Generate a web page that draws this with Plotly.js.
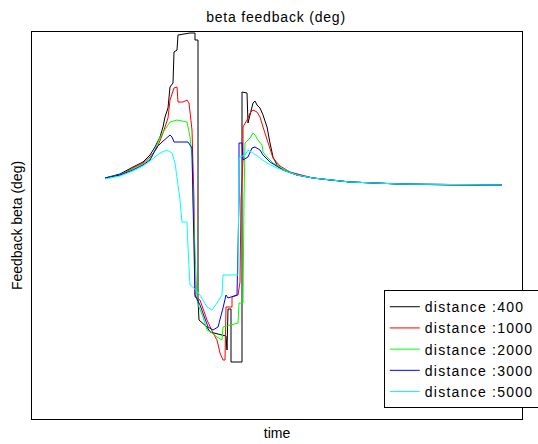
<!DOCTYPE html>
<html>
<head>
<meta charset="utf-8">
<script src="https://cdn.plot.ly/plotly-3.0.1.min.js"></script>
<style>
html,body{margin:0;padding:0;background:#fff;}
#chart{width:538px;height:444px;}
text.legendtext{letter-spacing:1.25px;}
text.gtitle{letter-spacing:0.8px;}
</style>
</head>
<body>
<div id="chart"></div>
<script>
// time (arbitrary units) and beta feedback (deg) for each distance
const seriesNames = ["distance :400", "distance :1000", "distance :2000", "distance :3000", "distance :5000"];
const seriesColors = ["#000000", "#ff0000", "#00ff00", "#0000ff", "#00ffff"];

const t400 = [7.3,8.8,10.1,11.1,11.8,12.3,12.8,13.1,13.3,13.6,13.8,14.1,14.2,14.5,14.6,15.8,16.3,16.3,16.6,16.6,16.7,17.5,17.8,19.1,19.4,19.5,19.6,19.9,19.9,21.0,21.0,21.5,21.6,22.1,22.3,22.5,22.8,23.1,23.5,23.8,24.1,24.5,25.1,26.5,28.1,29.8,31.8,36.8,41.8,47.0];
const b400 = [0.7,1.1,1.8,2.3,3.0,3.8,4.8,5.8,6.8,7.7,9.8,10.2,13.3,13.5,15.0,15.2,15.2,14.5,14.5,-11.5,-13.5,-14.2,-14.7,-15.0,-15.1,-16.5,-12.4,-12.4,-17.7,-17.7,9.3,9.2,6.2,8.2,8.4,8.0,7.7,7.0,5.8,4.2,2.8,2.0,1.5,1.0,0.7,0.5,0.3,0.1,0.0,0.0];

const t1000 = [7.3,8.8,10.1,11.1,11.8,12.5,13.1,13.6,13.8,14.2,14.5,14.6,15.1,15.5,15.7,16.0,16.2,16.3,16.8,17.5,18.1,18.5,18.8,19.1,19.3,19.4,20.0,20.0,20.6,20.8,20.9,21.1,21.1,21.5,21.8,22.1,22.5,22.8,23.1,23.5,23.8,24.1,24.8,25.8,28.1,31.8,36.8,47.0];
const b1000 = [0.7,1.0,1.7,2.2,2.8,3.7,5.2,6.7,8.5,9.7,9.8,8.3,8.3,8.5,8.2,5.5,-1.5,-11.2,-11.5,-13.5,-14.8,-15.5,-16.8,-17.5,-17.5,-12.2,-12.2,-11.2,-11.0,-9.7,-1.5,2.5,5.8,6.5,7.2,7.5,7.3,6.8,5.8,4.5,3.5,2.7,1.9,1.3,0.7,0.3,0.1,0.0];

const t2000 = [7.3,8.8,10.1,11.1,11.8,12.3,12.8,13.3,13.8,14.5,15.5,15.8,16.0,16.1,16.5,16.7,17.1,17.5,18.0,18.5,19.0,19.1,19.8,20.6,20.7,21.1,21.2,21.3,21.8,22.1,22.3,22.6,23.0,23.1,23.5,24.1,25.1,26.5,28.1,31.8,36.8,47.0];
const b2000 = [0.7,1.0,1.6,2.1,2.6,3.5,4.8,5.5,6.3,6.5,6.3,4.8,2.8,-1.5,-11.5,-12.2,-13.2,-14.5,-14.8,-15.2,-15.5,-14.2,-14.0,-13.8,-11.8,-11.8,-1.5,4.2,4.7,5.2,5.0,4.5,4.0,3.3,2.8,2.2,1.6,1.0,0.7,0.3,0.1,0.0];

const t3000 = [7.3,8.8,10.1,11.1,11.8,12.5,13.0,13.5,13.8,14.0,14.2,15.6,16.0,16.1,16.3,16.8,17.1,17.6,18.1,18.6,19.1,19.4,19.6,20.0,20.5,20.7,20.7,21.0,21.1,21.6,22.0,22.3,22.8,23.1,23.8,25.1,26.5,28.1,31.8,36.8,47.0];
const b3000 = [0.7,1.0,1.5,2.0,2.5,3.8,4.3,4.8,5.0,4.8,4.3,4.3,3.7,-1.5,-11.0,-12.0,-12.8,-14.2,-14.5,-14.2,-12.3,-11.0,-11.3,-11.2,-11.0,-1.5,4.2,4.2,2.5,2.8,3.7,3.8,3.5,3.0,2.3,1.5,1.0,0.7,0.3,0.1,0.0];

const t5000 = [7.3,8.8,10.1,11.1,11.8,12.8,13.5,14.0,14.3,14.5,14.8,15.0,15.5,15.6,15.8,16.1,16.8,17.5,18.0,18.5,19.0,19.1,20.6,20.7,20.8,21.3,21.6,22.1,22.8,23.5,24.5,26.5,28.1,31.8,36.8,47.0];
const b5000 = [0.6,0.9,1.4,1.9,2.4,3.2,3.5,3.2,2.2,0.8,-1.5,-3.7,-3.7,-6.2,-10.0,-10.2,-11.0,-12.2,-12.5,-11.8,-11.0,-9.0,-9.0,2.5,2.8,3.0,3.5,3.2,2.7,2.2,1.7,1.0,0.7,0.3,0.1,0.0];

const xs = [t400, t1000, t2000, t3000, t5000];
const ys = [b400, b1000, b2000, b3000, b5000];

const traces = seriesNames.map((n, i) => ({
  type: "scatter", mode: "lines", name: n,
  x: xs[i], y: ys[i],
  line: {color: seriesColors[i], width: 1}
}));

const font = "Liberation Sans, Arial, sans-serif";
const layout = {
  width: 538, height: 444,
  margin: {l: 32, r: 16, t: 32, b: 25, autoexpand: false},
  paper_bgcolor: "#fff", plot_bgcolor: "#fff",
  font: {family: font, size: 13, color: "#000"},
  title: {text: "beta feedback (deg)", font: {family: font, size: 14, color: "#000"}, x: 0.513, xanchor: "center", y: 0.962, yanchor: "middle"},
  xaxis: {range: [0, 49], showgrid: false, zeroline: false, showticklabels: false, ticks: "",
          showline: true, mirror: true, linecolor: "#000", linewidth: 1,
          title: {text: "time", font: {family: font, size: 14, color: "#000"}, standoff: 9}},
  yaxis: {range: [-23.4, 15.3], showgrid: false, zeroline: false, showticklabels: false, ticks: "",
          showline: true, mirror: true, linecolor: "#000", linewidth: 1,
          title: {text: "Feedback beta (deg)", font: {family: font, size: 14, color: "#000"}, standoff: 5}},
  showlegend: true,
  legend: {x: 0.718, y: 0.333, xanchor: "left", yanchor: "top", bgcolor: "#fff",
           bordercolor: "#000", borderwidth: 1, font: {family: font, size: 14, color: "#000"}}
};

Plotly.newPlot("chart", traces, layout, {staticPlot: true, displayModeBar: false});
</script>
</body>
</html>
